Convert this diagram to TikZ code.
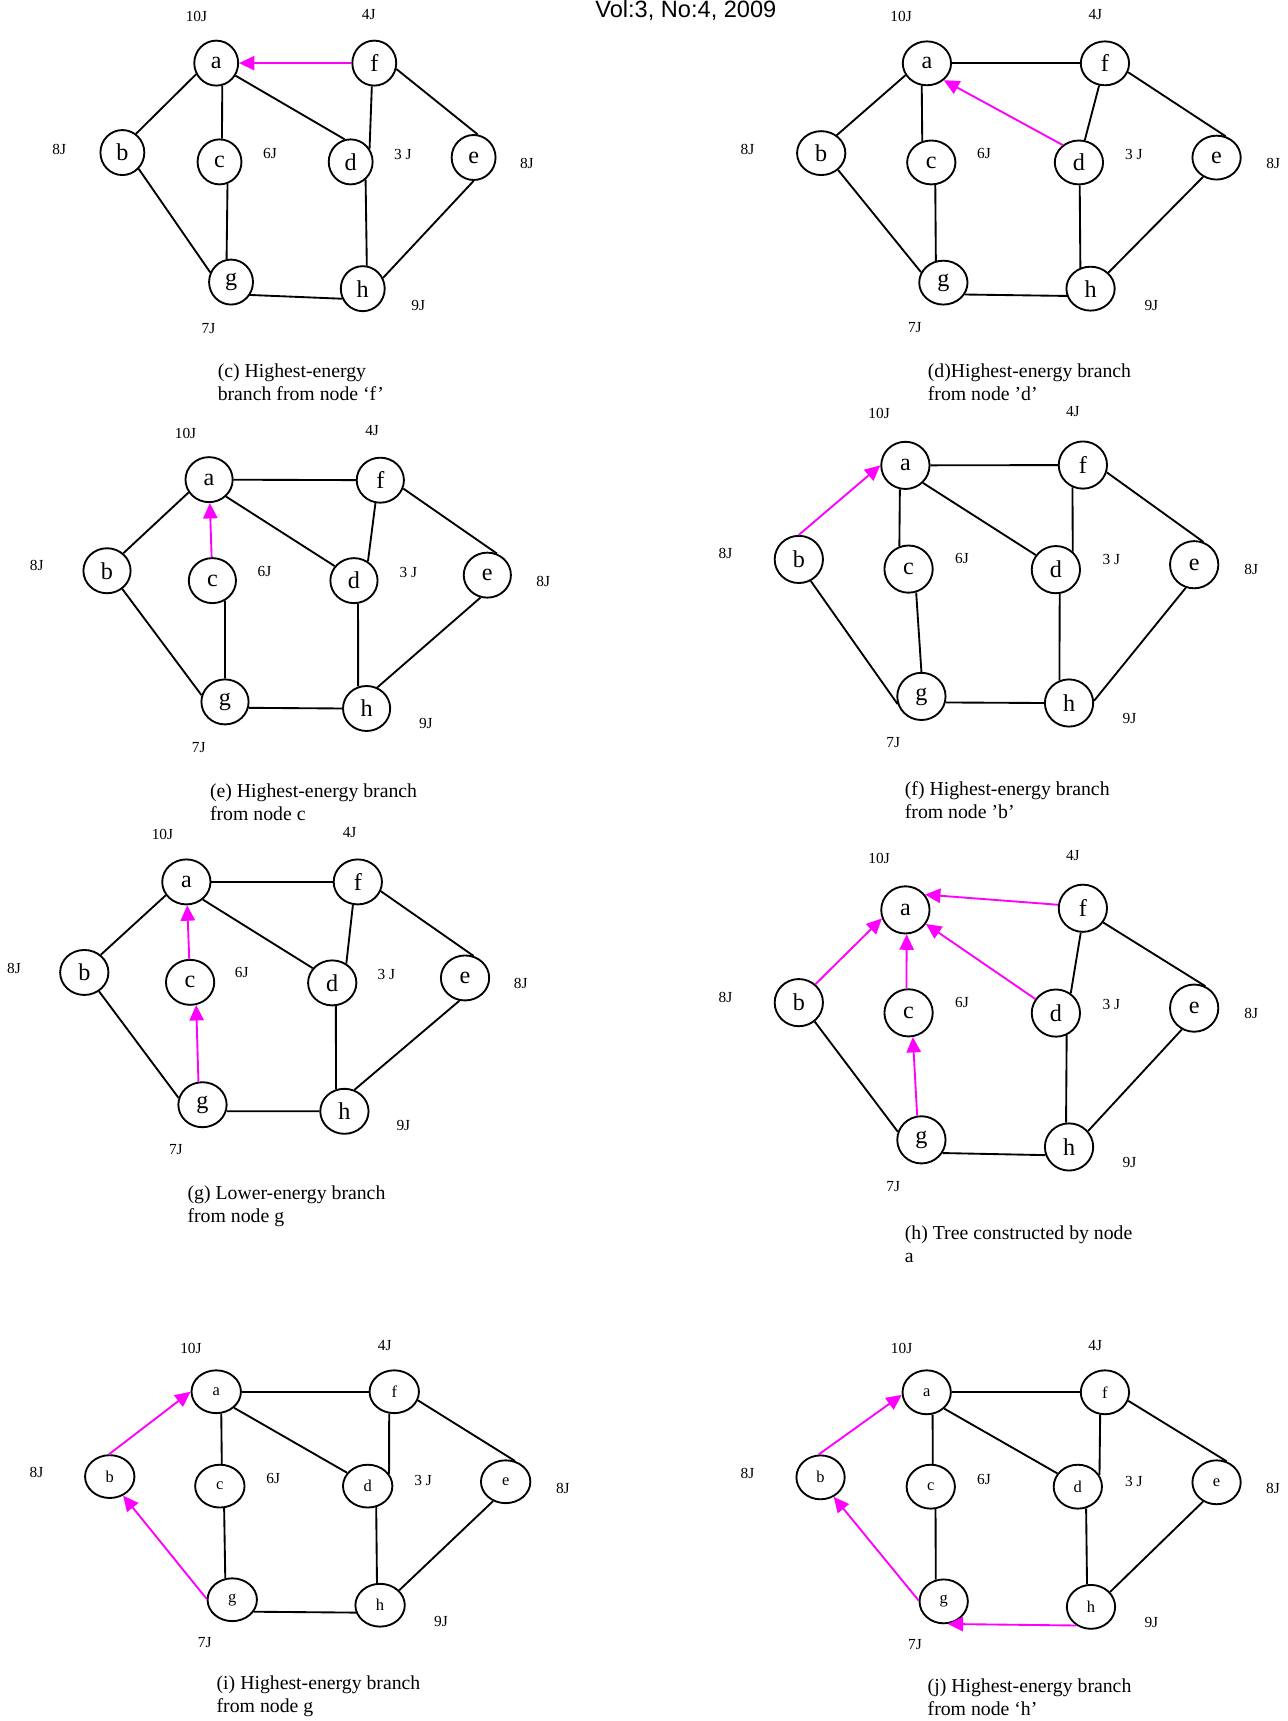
\documentclass[tikz,border=0pt]{standalone}
\usepackage{fontspec}
\setmainfont{Liberation Serif}
\newfontfamily\hdrfont{Liberation Sans}
\usetikzlibrary{arrows.meta,shapes.geometric}
\definecolor{hmag}{RGB}{255,0,255}
\begin{document}
\begin{tikzpicture}[x=0.5pt,y=-0.5pt,
  nd/.style={ellipse, draw, line width=0.85pt, inner sep=0pt, font=\fontsize{11}{11}\selectfont},
  ndsm/.style={nd, font=\fontsize{7.5}{7.5}\selectfont},
  lbl/.style={inner sep=0pt, font=\fontsize{7}{7}\selectfont},
  captxt/.style={inner sep=0pt, anchor=north west, align=left, font=\fontsize{9}{10.4}\selectfont},
  lnk/.style={line width=0.85pt},
  harr/.style={draw=hmag, fill=hmag, line width=0.85pt, -{Triangle[length=7pt,width=6.5pt]}}]
\useasboundingbox (0,0) rectangle (1173,1568);
\fill[white] (0,0) rectangle (1173,1568);

\node[anchor=base west, inner sep=0pt, font=\hdrfont\fontsize{10.75}{12}\selectfont] (hdr) at (542,15.8) {Vol:3, No:4, 2009};

% ---------------- panel (c)
\begin{scope}[nd/.append style={minimum width=20pt,minimum height=20.5pt}]
\node[nd] (ca) at (197,57.5) {a};
\node[nd] (cf) at (341,57.5) {f};
\node[nd] (cb) at (111.5,139) {b};
\node[nd] (cc) at (200,147.5) {c};
\node[nd] (cd) at (319.5,147.5) {d};
\node[nd] (ce) at (431.5,143.5) {e};
\node[nd] (cg) at (210.5,257) {g};
\node[nd] (ch) at (330.5,263) {h};
\node[lbl] (cla) at (179,15) {10J};
\node[lbl] (clf) at (336,13) {4J};
\node[lbl] (clb) at (54,136) {8J};
\node[lbl] (clc) at (246,140) {6J};
\node[lbl] (cld) at (367,141) {3 J};
\node[lbl] (cle) at (480,149) {8J};
\node[lbl] (clh) at (381,278) {9J};
\node[lbl] (clg) at (190,299) {7J};
\node[captxt] (ccap) at (198,331.5) {(c) Highest-energy\\branch from node ‘f’};
\draw[lnk] (ca.209) -- (cb.54);
\draw[lnk] (ca.-75) -- (cc.84);
\draw[lnk] (ca.-33) -- (cd.105);
\draw[lnk] (cf.264) -- (cd.35);
\draw[lnk] (cf.-15) -- (ce.80);
\draw[lnk] (cb.-45) -- (cg.155);
\draw[lnk] (cc.-70) -- (cg.101);
\draw[lnk] (cd.-50) -- (ch.80);
\draw[lnk] (ce.270) -- (ch.28);
\draw[lnk] (cg.-34) -- (ch.206);
\draw[harr] (cf) -- (ca);
\end{scope}

% ---------------- panel (d)
\begin{scope}[nd/.append style={minimum width=22pt,minimum height=20pt}]
\node[nd] (da) at (844.5,57.7) {a};
\node[nd] (df) at (1006.7,57.7) {f};
\node[nd] (db) at (748.2,139.5) {b};
\node[nd] (dc) at (848.5,148) {c};
\node[nd] (dd) at (983,148) {d};
\node[nd] (de) at (1108.4,143.6) {e};
\node[nd] (dg) at (859.5,257.5) {g};
\node[nd] (dh) at (993.6,263) {h};
\node[lbl] (dla) at (821,15) {10J};
\node[lbl] (dlf) at (998,13) {4J};
\node[lbl] (dlb) at (681,136) {8J};
\node[lbl] (dlc) at (896.5,140) {6J};
\node[lbl] (dld) at (1033,141) {3 J};
\node[lbl] (dle) at (1160,149) {8J};
\node[lbl] (dlh) at (1049,278) {9J};
\node[lbl] (dlg) at (833.5,298.5) {7J};
\node[captxt] (dcap) at (845,331.5) {(d)Highest-energy branch\\from node ’d’};
\draw[lnk] (da) -- (df);
\draw[lnk] (da.209) -- (db.49);
\draw[lnk] (da.-103) -- (dc.113);
\draw[lnk] (df) -- (dd);
\draw[lnk] (df.-21) -- (de.67);
\draw[lnk] (db.-45) -- (dg.155);
\draw[lnk] (dc.-80) -- (dg.109);
\draw[lnk] (dd.-88) -- (dh.116);
\draw[lnk] (de.235) -- (dh.42);
\draw[lnk] (dg.-29) -- (dh.197);
\draw[harr] (dd.133) -- (da.-45);
\end{scope}

% ---------------- panel (e)
\begin{scope}[nd/.append style={minimum width=21.5pt,minimum height=20.5pt}]
\node[nd] (ea) at (190.5,437) {a};
\node[nd] (ef) at (346.5,437.5) {f};
\node[nd] (eb) at (97.5,520) {b};
\node[nd] (ec) at (193.5,529) {c};
\node[nd] (ed) at (322.5,529) {d};
\node[nd] (ee) at (444,524) {e};
\node[nd] (eg) at (205,639.5) {g};
\node[nd] (eh) at (334,645.5) {h};
\node[lbl] (ela) at (169,394.5) {10J};
\node[lbl] (elf) at (339,392) {4J};
\node[lbl] (elb) at (33.5,515) {8J};
\node[lbl] (elc) at (241,520.5) {6J};
\node[lbl] (eld) at (372,521.5) {3 J};
\node[lbl] (ele) at (495,530) {8J};
\node[lbl] (elh) at (388,659.5) {9J};
\node[lbl] (elg) at (181,681) {7J};
\node[captxt] (ecap) at (191,714) {(e) Highest-energy branch\\from node c};
\draw[lnk] (ea) -- (ef);
\draw[lnk] (ea.212) -- (eb.47);
\draw[lnk] (ea.-45) -- (ed.143);
\draw[lnk] (ef.258) -- (ed.54);
\draw[lnk] (ef.-20) -- (ee.66);
\draw[lnk] (eb.-50) -- (eg.164);
\draw[lnk] (ec.-58) -- (eg.90);
\draw[lnk] (ed.-80) -- (eh.111);
\draw[lnk] (ee.253) -- (eh.63);
\draw[lnk] (eg.-14) -- (eh.180);
\draw[harr] (ec) -- (ea);
\end{scope}

% ---------------- panel (f)
\begin{scope}[nd/.append style={minimum width=22pt,minimum height=21.5pt}]
\node[nd] (fa) at (824.9,424) {a};
\node[nd] (ff) at (986.6,423.7) {f};
\node[nd] (fb) at (727.8,509.7) {b};
\node[nd] (fc) at (827.8,518.5) {c};
\node[nd] (fd) at (962,519) {d};
\node[nd] (fe) at (1088,514.5) {e};
\node[nd] (fg) at (839.5,634.5) {g};
\node[nd] (fh) at (974,640.5) {h};
\node[lbl] (fla) at (801,377) {10J};
\node[lbl] (flf) at (977.5,375) {4J};
\node[lbl] (flb) at (661,504.5) {8J};
\node[lbl] (flc) at (876.4,508.5) {6J};
\node[lbl] (fld) at (1012.5,510) {3 J};
\node[lbl] (fle) at (1140,519) {8J};
\node[lbl] (flh) at (1029,655) {9J};
\node[lbl] (flg) at (813.8,676.5) {7J};
\node[captxt] (fcap) at (824,711.8) {(f) Highest-energy branch\\from node ’b’};
\draw[lnk] (fa) -- (ff);
\draw[lnk] (fa.-103) -- (fc.112);
\draw[lnk] (fa.-45) -- (fd.144);
\draw[lnk] (ff.245) -- (fd.47);
\draw[lnk] (ff.-17) -- (fe.68);
\draw[lnk] (fb.-61) -- (fg.198);
\draw[lnk] (fc.-72) -- (fg.90);
\draw[lnk] (fd.-81) -- (fh.113);
\draw[lnk] (fe.250) -- (fh.5);
\draw[lnk] (fg.-14) -- (fh.180);
\draw[harr] (fb.90) -- (fa.180);
\end{scope}

% ---------------- panel (g)
\begin{scope}[nd/.append style={minimum width=22pt,minimum height=20.5pt}]
\node[nd] (ga) at (169.8,803.5) {a};
\node[nd] (gf) at (326,803.5) {f};
\node[nd] (gb) at (76.8,886) {b};
\node[nd] (gc) at (173.2,895) {c};
\node[nd] (gd) at (302.7,895.5) {d};
\node[nd] (ge) at (423.7,891) {e};
\node[nd] (gg) at (184.5,1006.5) {g};
\node[nd] (gh) at (313.8,1012.5) {h};
\node[lbl] (gla) at (148,760.5) {10J};
\node[lbl] (glf) at (318.5,758.7) {4J};
\node[lbl] (glb) at (12.8,882.3) {8J};
\node[lbl] (glc) at (220.3,886.3) {6J};
\node[lbl] (gld) at (352,888) {3 J};
\node[lbl] (gle) at (474.5,895.8) {8J};
\node[lbl] (glh) at (367.5,1025.7) {9J};
\node[lbl] (glg) at (160.2,1047.3) {7J};
\node[captxt] (gcap) at (170.5,1080) {(g) Lower-energy branch\\from node g};
\draw[lnk] (ga) -- (gf);
\draw[lnk] (ga.213) -- (gb.47);
\draw[lnk] (ga.-47) -- (gd.143);
\draw[lnk] (gf.258) -- (gd.54);
\draw[lnk] (gf.-22) -- (ge.69);
\draw[lnk] (gb.-52) -- (gg.164);
\draw[lnk] (gd.-81) -- (gh.111);
\draw[lnk] (ge.256) -- (gh.65);
\draw[lnk] (gg.-15) -- (gh.180);
\draw[harr] (gc) -- (ga);
\draw[harr] (gg.100) -- (gc.-75);
\end{scope}

% ---------------- panel (h)
\begin{scope}[nd/.append style={minimum width=22pt,minimum height=21.5pt}]
\node[nd] (ha) at (824.9,829) {a};
\node[nd] (hf) at (986.6,827.5) {f};
\node[nd] (hb) at (727.8,913.5) {b};
\node[nd] (hc) at (827.8,922.8) {c};
\node[nd] (hd) at (962,923) {d};
\node[nd] (he) at (1088,918.5) {e};
\node[nd] (hg) at (839.5,1038.5) {g};
\node[nd] (hh) at (974,1045) {h};
\node[lbl] (hla) at (801,782.5) {10J};
\node[lbl] (hlf) at (977.5,779.5) {4J};
\node[lbl] (hlb) at (661,909.2) {8J};
\node[lbl] (hlc) at (876.4,913.5) {6J};
\node[lbl] (hld) at (1012.5,915.3) {3 J};
\node[lbl] (hle) at (1140,923.7) {8J};
\node[lbl] (hlh) at (1029,1059) {9J};
\node[lbl] (hlg) at (813.8,1080.8) {7J};
\node[captxt] (hcap) at (824,1116.3) {(h) Tree constructed by node\\a};
\draw[lnk] (hf.265) -- (hd.53);
\draw[lnk] (hf.-35) -- (he.63);
\draw[lnk] (hb.-50) -- (hg.161);
\draw[lnk] (hd.-64) -- (hh.97);
\draw[lnk] (he.240) -- (hh.40);
\draw[lnk] (hg.-32) -- (hh.199);
\draw[harr] (hf.172) -- (ha.38);
\draw[harr] (hb.48) -- (ha.200);
\draw[harr] (hc.95) -- (ha.-87);
\draw[harr] (hd) -- (ha);
\draw[harr] (hg.100) -- (hc.-80);
\end{scope}

% ---------------- panel (i)
\begin{scope}[nd/.append style={minimum width=22.5pt,minimum height=19.5pt}]
\node[ndsm] (ia) at (197,1268) {a};
\node[ndsm] (if) at (359.2,1268) {f};
\node[ndsm] (ib) at (100,1345.3) {b};
\node[ndsm] (ic) at (200.3,1354) {c};
\node[ndsm] (id) at (335,1354) {d};
\node[ndsm] (ie) at (460.7,1350) {e};
\node[ndsm] (ig) at (211.6,1457.5) {g};
\node[ndsm] (ih) at (346.3,1462.5) {h};
\node[lbl] (ila) at (174,1228.8) {10J};
\node[lbl] (ilf) at (350.6,1226) {4J};
\node[lbl] (ilb) at (33.2,1341.3) {8J};
\node[lbl] (ilc) at (249,1347.4) {6J};
\node[lbl] (ild) at (385.5,1348.5) {3 J};
\node[lbl] (ile) at (512.8,1355.7) {8J};
\node[lbl] (ilh) at (401.8,1477.3) {9J};
\node[lbl] (ilg) at (186.6,1496.5) {7J};
\node[captxt] (icap) at (197,1526.5) {(i) Highest-energy branch\\from node g};
\draw[lnk] (ia) -- (if);
\draw[lnk] (ia.-77) -- (ic.85);
\draw[lnk] (ia.-42) -- (id.147);
\draw[lnk] (if.257) -- (id.30);
\draw[lnk] (if.-20) -- (ie.66);
\draw[lnk] (ic.-79) -- (ig.108);
\draw[lnk] (id.-68) -- (ih.98);
\draw[lnk] (ie.237) -- (ih.38);
\draw[lnk] (ig.-29) -- (ih.197);
\draw[harr] (ib.92) -- (ia.180);
\draw[harr] (ig.178) -- (ib.-55);
\end{scope}

% ---------------- panel (j)
\begin{scope}[nd/.append style={minimum width=22pt,minimum height=20pt}]
\node[ndsm] (ja) at (844.3,1268.5) {a};
\node[ndsm] (jf) at (1006.7,1268.5) {f};
\node[ndsm] (jb) at (747.6,1346) {b};
\node[ndsm] (jc) at (848,1354.5) {c};
\node[ndsm] (jd) at (982,1354.5) {d};
\node[ndsm] (je) at (1108.4,1350.5) {e};
\node[ndsm] (jg) at (859.8,1459) {g};
\node[ndsm] (jh) at (994,1464) {h};
\node[lbl] (jla) at (821.5,1229) {10J};
\node[lbl] (jlf) at (997.9,1226) {4J};
\node[lbl] (jlb) at (681,1342.4) {8J};
\node[lbl] (jlc) at (896.5,1348) {6J};
\node[lbl] (jld) at (1033,1349.5) {3 J};
\node[lbl] (jle) at (1159.8,1356.5) {8J};
\node[lbl] (jlh) at (1049,1478.5) {9J};
\node[lbl] (jlg) at (833.6,1498.5) {7J};
\node[captxt] (jcap) at (844.8,1529.3) {(j) Highest-energy branch\\from node ‘h’};
\draw[lnk] (ja) -- (jf);
\draw[lnk] (ja.-75) -- (jc.85);
\draw[lnk] (ja.-43) -- (jd.147);
\draw[lnk] (jf.258) -- (jd.28);
\draw[lnk] (jf.-20) -- (je.64);
\draw[lnk] (jc.-78) -- (jg.110);
\draw[lnk] (jd.-69) -- (jh.100);
\draw[lnk] (je.235) -- (jh.38);
\draw[harr] (jb.95) -- (ja.186);
\draw[harr] (jg.178) -- (jb.-56);
\draw[harr] (jh.232) -- (jg.280);
\end{scope}
\end{tikzpicture}
\end{document}
